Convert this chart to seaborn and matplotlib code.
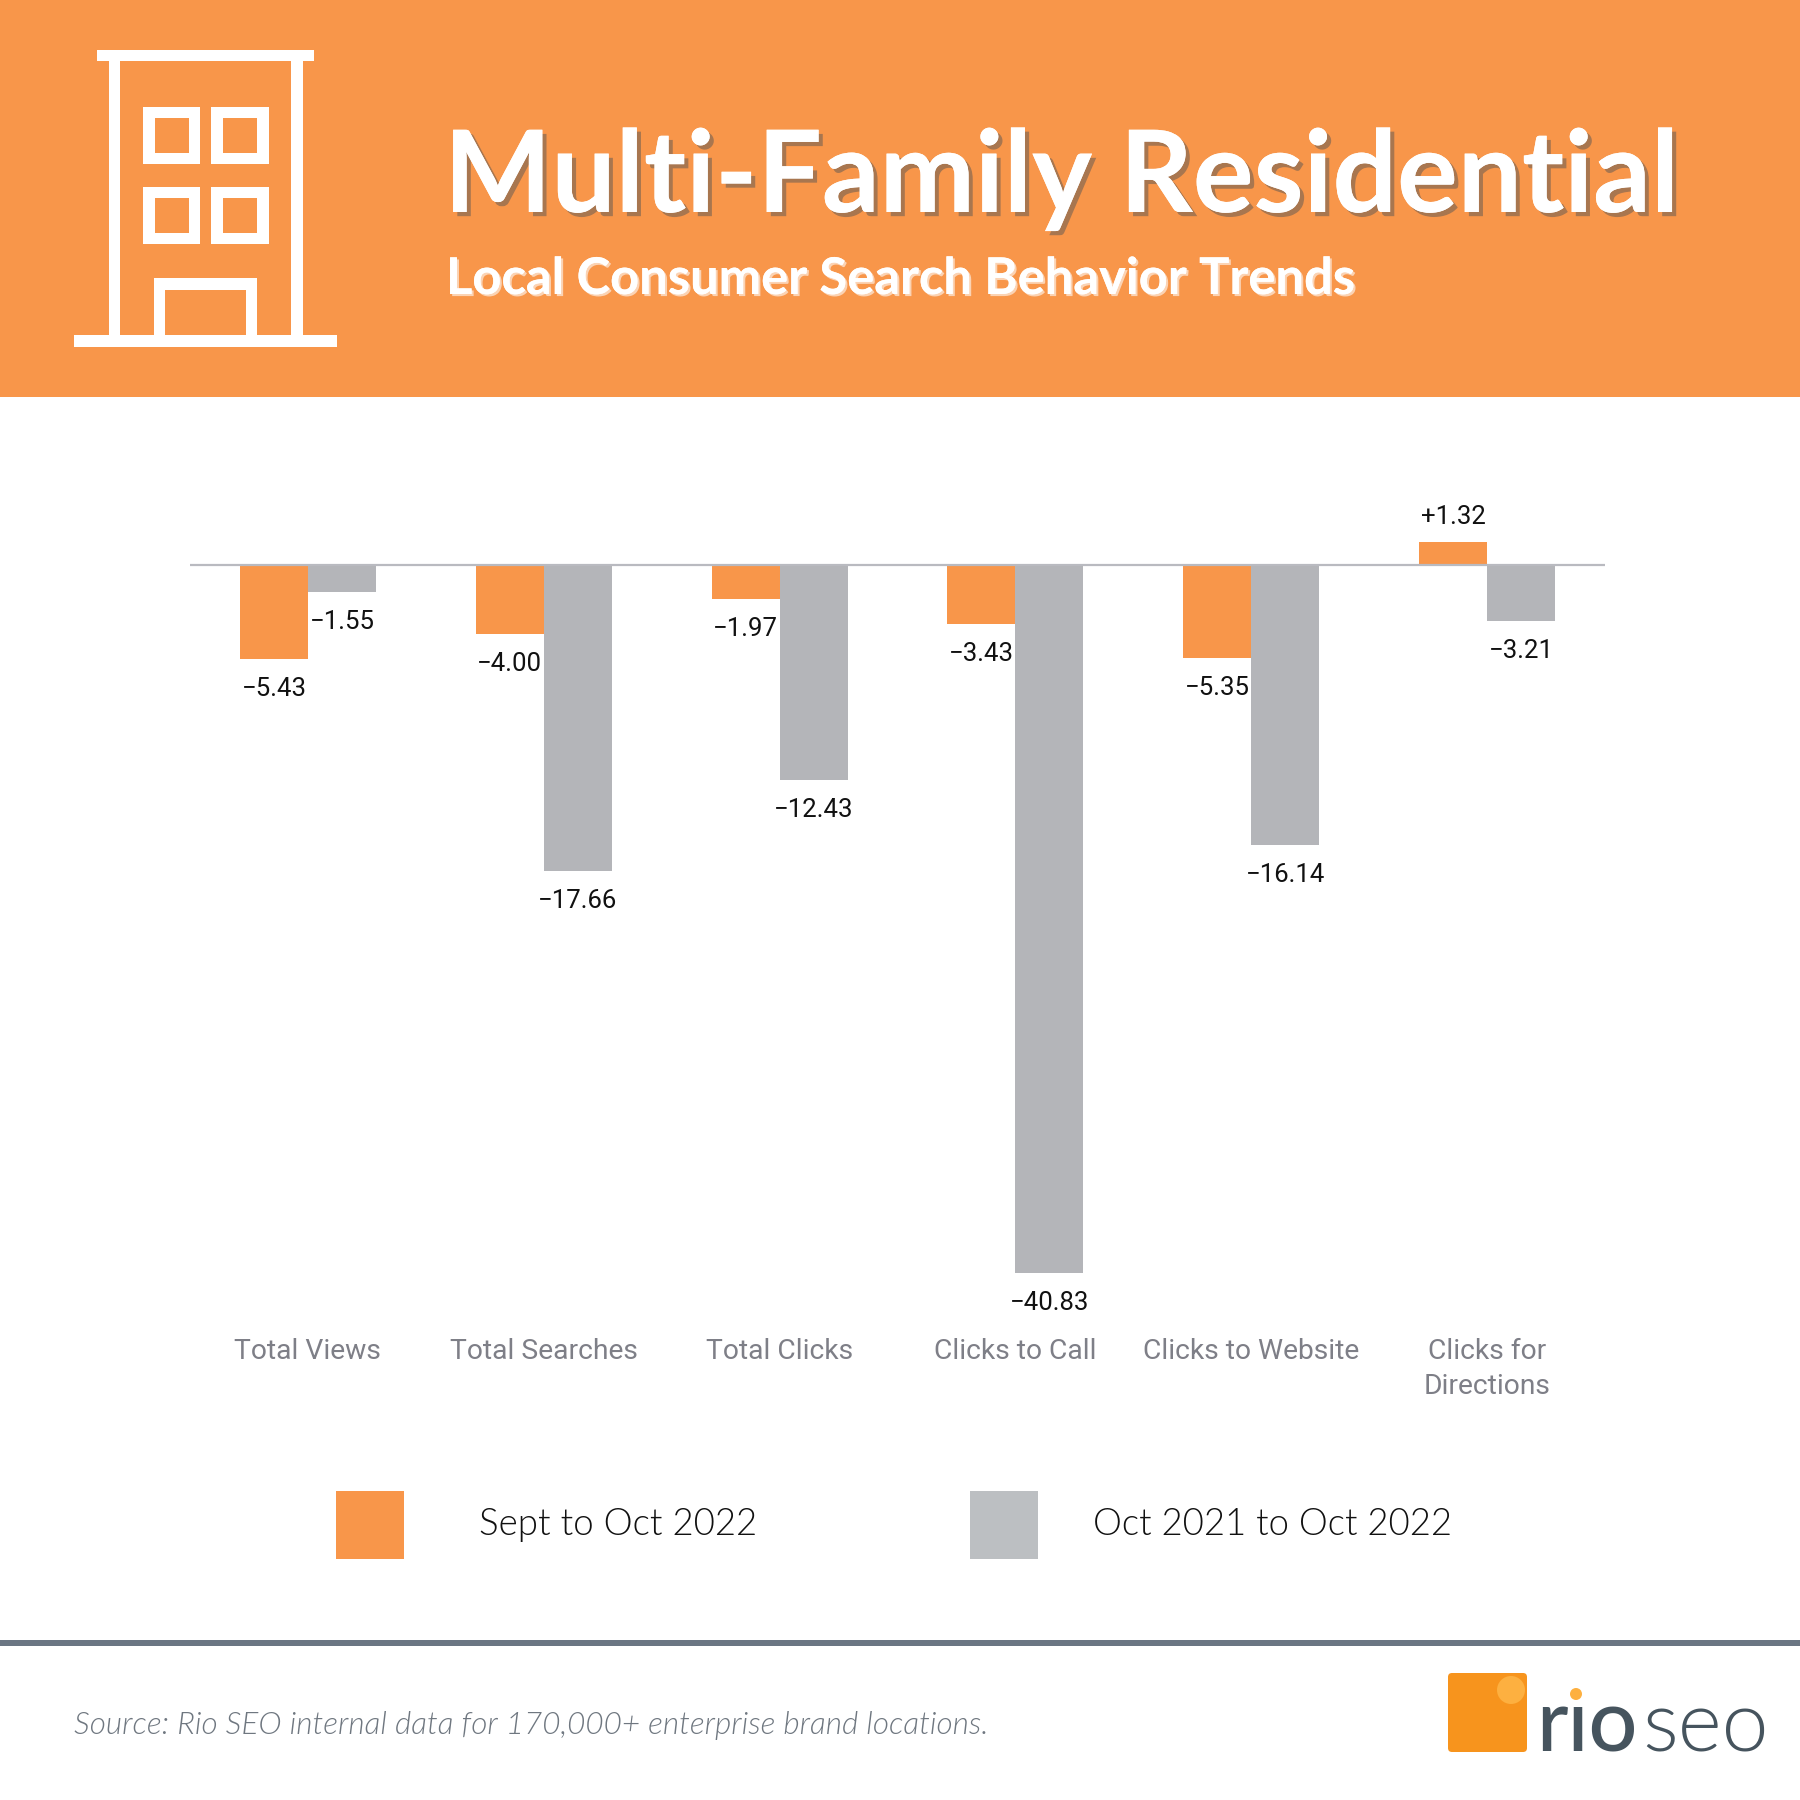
import matplotlib
matplotlib.use("Agg")
import matplotlib.pyplot as plt
import matplotlib.patheffects as pe
from matplotlib import font_manager as fm
from matplotlib.patches import Rectangle, Circle, FancyBboxPatch
import pandas as pd
import seaborn as sns

categories = ["Total Views", "Total Searches", "Total Clicks", "Clicks to Call",
              "Clicks to Website", "Clicks for\nDirections"]
series_names = ["Sept to Oct 2022", "Oct 2021 to Oct 2022"]
sept_to_oct = [-5.43, -4.00, -1.97, -3.43, -5.35, 1.32]
year_over_year = [-1.55, -17.66, -12.43, -40.83, -16.14, -3.21]

ORANGE = "#F8964A"
GREY = "#B4B5B9"
LEGEND_GREY = "#BCBFC2"
W = H = 1800

df = pd.DataFrame({
    "category": categories * 2,
    "series": [series_names[0]] * 6 + [series_names[1]] * 6,
    "value": sept_to_oct + year_over_year,
})

sns.set_theme(style="white")
plt.rcParams["font.family"] = ["Roboto", "DejaVu Sans"]


def lato(stem, size, fallback_style="normal"):
    """Lato cut picked by file name, because weight matching can land on Hairline."""
    for f in fm.fontManager.ttflist:
        if f.fname.rsplit("/", 1)[-1].split(".")[0] == stem:
            return fm.FontProperties(fname=f.fname, size=size)
    return fm.FontProperties(family="Lato", style=fallback_style, size=size)


fig = plt.figure(figsize=(18, 18), dpi=100, facecolor="white")

# overlay in pixel coordinates for the infographic furniture
deco = fig.add_axes([0, 0, 1, 1], zorder=0)
deco.set_xlim(0, W)
deco.set_ylim(H, 0)
deco.axis("off")

# chart axes
top_px, bot_px = 500, 1300
ax = fig.add_axes([190 / W, 1 - bot_px / H, (1605 - 190) / W, (bot_px - top_px) / H], zorder=1)
ax.patch.set_alpha(0)
sns.barplot(data=df, x="category", y="value", hue="series", order=categories,
            hue_order=series_names, palette=[ORANGE, GREY], saturation=1,
            width=0.576, gap=0, dodge=True, legend=False, ax=ax, linewidth=0)
ax.set_xlim(-0.5, 5.5)
ax.set_ylim(-(bot_px - 565) / 17.33, (565 - top_px) / 17.33)
ax.axhline(0, color="#B9BAC0", lw=1.6, zorder=5)
for c in ax.containers:
    fmt = [f"{b.get_height():+.2f}".replace("-", "\u2212") for b in c]
    neg = [t if t.startswith("\u2212") else "" for t in fmt]
    pos = [t if t.startswith("+") else "" for t in fmt]
    ax.bar_label(c, labels=neg, padding=13, fontsize=18.5, color="#111111", fontfamily="Roboto")
    ax.bar_label(c, labels=pos, padding=9.5, fontsize=18.5, color="#111111", fontfamily="Roboto")
sns.despine(ax=ax, left=True, bottom=True, top=True, right=True)
ax.set_xlabel("")
ax.set_ylabel("")
ax.set_yticks([])
ax.tick_params(axis="x", length=0, pad=27.5, labelsize=20.3, labelcolor="#7E7F87")
for t in ax.get_xticklabels():
    t.set_fontweight("regular")
    t.set_linespacing(1.36)

# header band
deco.add_patch(Rectangle((0, 0), W, 397, color=ORANGE, lw=0))


def rect(x0, y0, x1, y1, col="white"):
    deco.add_patch(Rectangle((x0, y0), x1 - x0, y1 - y0, color=col, lw=0))


# building icon
rect(97, 50, 314, 61)
rect(108.5, 61, 120, 335)
rect(291, 61, 302.5, 335)
rect(74, 335, 337, 347)
for wx0, wx1, ix0, ix1 in ((143, 200, 154.5, 189), (211, 269, 223, 257)):
    for wy in (107, 187):
        rect(wx0, wy, wx1, wy + 57)
        rect(ix0, wy + 11, ix1, wy + 46, ORANGE)
rect(154, 278, 257, 335)
rect(165, 290, 246, 335, ORANGE)

title_fx = [pe.withSimplePatchShadow(offset=(3, -3), shadow_rgbFace="#A8764F", alpha=1), pe.Normal()]
sub_fx = [pe.withSimplePatchShadow(offset=(1.5, -1.5), shadow_rgbFace="#FBD3B4", alpha=1), pe.Normal()]
deco.text(444, 212, "Multi-Family Residential", color="white", fontsize=81.9, fontfamily="Lato",
          fontweight="bold", va="baseline", ha="left", path_effects=title_fx)
deco.text(446, 294, "Local Consumer Search Behavior Trends", color="white", fontsize=36.5,
          fontfamily="Lato", fontweight="bold", va="baseline", ha="left", path_effects=sub_fx)

# legend
rect(336, 1491, 404, 1559, ORANGE)
rect(970, 1491, 1038, 1559, LEGEND_GREY)
deco.text(479, 1525, series_names[0], fontproperties=lato("Lato-Light", 26.4),
          color="#111111", va="center", ha="left")
deco.text(1093, 1525, series_names[1], fontproperties=lato("Lato-Light", 26.3),
          color="#111111", va="center", ha="left")

# footer
rect(0, 1640, W, 1646, "#6B7683")
deco.text(74, 1734, "Source: Rio SEO internal data for 170,000+ enterprise brand locations.",
          fontproperties=lato("Lato-LightItalic", 22.7, "italic"),
          color="#6F7780", va="baseline", ha="left")

# logo
deco.add_patch(FancyBboxPatch((1451, 1676), 73, 73, boxstyle="round,pad=3,rounding_size=4",
                              fc="#F7941D", ec="none"))
deco.add_patch(Circle((1511, 1690), 14, fc="#FDB040", ec="none"))
deco.add_patch(Circle((1576, 1694), 6, fc="#FDB040", ec="none"))
deco.text(1536, 1751, "r\u0131o", fontproperties=lato("Lato-Medium", 62),
          color="#46545E", va="baseline", ha="left")
deco.text(1642, 1751, "seo", fontproperties=lato("Lato-Light", 60.5),
          color="#46545E", va="baseline", ha="left")

fig.savefig("out.png", dpi=100, facecolor="white")
